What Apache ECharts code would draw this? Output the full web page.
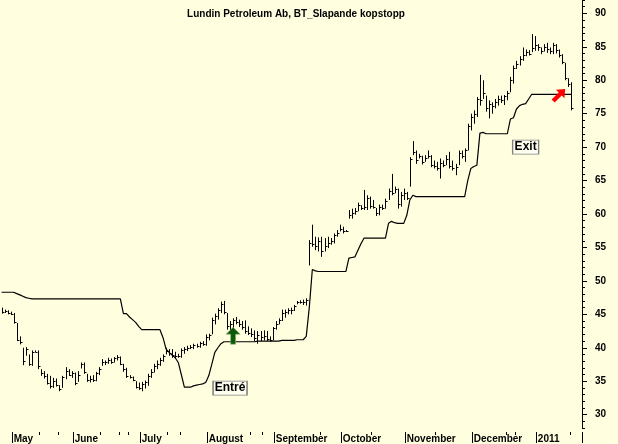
<!DOCTYPE html>
<html>
<head>
<meta charset="utf-8">
<script src="https://cdn.jsdelivr.net/npm/echarts@6/dist/echarts.min.js"></script>
<style>
  html, body { margin: 0; padding: 0; background: #ffffe0; }
  #main { width: 618px; height: 444px; }
</style>
</head>
<body>
<div id="main"></div>
<script>
// trading days, Apr 27 2010 - Jan 19 2011 (last 3 slots stay empty)
const holidays = ['2010-05-13', '2010-12-24', '2010-12-31', '2011-01-06'];
const monthNames = ['January', 'February', 'March', 'April', 'May', 'June', 'July',
    'August', 'September', 'October', 'November', 'December'];
const minorTickIdx = [13, 19, 33, 39, 42, 55, 59, 82, 86, 105, 122, 143, 166, 169, 187];

const highs = [
    46.0, 45.7, 45.6, 45.4, 45.2, 43.7, 41.7, 40.0, 40.1, 39.0,
    39.6, 39.6, 39.6, 36.8, 36.5, 36.1, 35.8, 35.5, 35.4, 34.4,
    35.8, 37.1, 36.8, 36.5, 36.3, 36.5, 37.8, 37.8, 36.1, 35.8,
    35.9, 36.4, 37.1, 38.3, 38.1, 38.5, 38.4, 38.6, 38.9, 38.7,
    37.6, 37.0, 35.9, 35.7, 35.0, 34.8, 34.9, 35.1, 36.1, 36.8,
    37.6, 38.1, 38.5, 39.0, 40.0, 39.8, 39.8, 39.4, 39.1, 39.9,
    40.1, 40.3, 40.4, 40.6, 40.6, 40.9, 41.0, 42.0, 42.1, 44.5,
    45.1, 45.9, 46.9, 47.0, 45.2, 44.0, 44.4, 44.6, 44.2, 44.0,
    44.1, 43.2, 42.9, 42.6, 42.5, 42.5, 42.6, 42.5, 41.7, 43.1,
    44.0, 44.4, 45.7, 45.7, 45.9, 46.0, 46.4, 47.0, 47.1, 47.2,
    47.4, 56.1, 58.4, 56.6, 56.5, 56.6, 56.4, 56.6, 56.4, 57.1,
    57.6, 58.4, 58.1, 57.6, 60.6, 60.8, 60.9, 61.7, 61.3, 63.6,
    62.8, 62.6, 62.1, 60.9, 61.4, 61.4, 62.3, 63.8, 66.0, 64.1,
    63.8, 63.3, 63.8, 63.3, 68.5, 70.9, 69.5, 69.0, 68.7, 68.8,
    69.5, 68.8, 68.0, 67.8, 68.3, 68.0, 68.8, 69.3, 68.0, 67.5,
    69.5, 69.5, 69.8, 73.5, 75.0, 75.5, 77.5, 80.8, 80.0, 77.7,
    77.0, 76.7, 77.2, 77.7, 77.7, 77.8, 78.4, 80.5, 82.2, 82.9,
    83.6, 84.9, 84.6, 84.5, 86.9, 86.6, 85.4, 84.9, 85.4, 85.6,
    84.9, 85.6, 85.4, 84.6, 83.9, 82.6, 80.3, 79.7
];
const lows = [
    45.1, 45.2, 45.0, 44.9, 43.6, 41.0, 40.5, 37.4, 38.8, 37.3,
    37.3, 39.3, 36.8, 35.8, 35.4, 34.5, 33.9, 34.0, 34.2, 33.5,
    34.0, 35.3, 35.8, 35.5, 34.4, 34.9, 36.9, 36.1, 34.9, 34.8,
    34.9, 35.0, 35.9, 37.3, 37.4, 37.6, 37.6, 37.8, 38.1, 37.4,
    36.4, 35.5, 35.4, 35.0, 33.9, 33.7, 33.5, 33.9, 34.3, 35.5,
    36.3, 36.8, 37.3, 37.9, 39.0, 38.8, 38.5, 38.4, 38.5, 38.5,
    39.1, 39.5, 39.8, 39.8, 40.0, 40.0, 40.3, 40.3, 41.1, 42.0,
    43.5, 44.2, 45.2, 45.0, 42.7, 42.5, 42.9, 43.5, 43.1, 42.7,
    42.1, 41.9, 41.6, 41.0, 40.6, 41.0, 41.1, 41.0, 40.9, 41.1,
    42.7, 43.5, 44.0, 44.5, 45.0, 45.0, 45.5, 46.5, 46.6, 46.4,
    46.3, 52.3, 55.1, 54.6, 54.4, 53.6, 54.4, 54.9, 55.4, 55.6,
    56.6, 57.4, 57.1, 57.3, 59.3, 59.3, 59.9, 60.4, 60.6, 60.6,
    60.6, 60.8, 60.8, 59.7, 59.8, 60.6, 60.8, 62.1, 62.8, 63.1,
    60.8, 61.1, 62.1, 62.1, 64.1, 68.8, 67.5, 68.3, 67.4, 67.8,
    68.3, 67.0, 66.8, 66.5, 65.3, 67.0, 67.3, 66.8, 66.5, 65.8,
    67.3, 68.3, 67.8, 69.5, 72.5, 73.5, 74.5, 76.2, 77.2, 75.3,
    74.3, 75.0, 75.8, 76.2, 76.6, 76.3, 77.0, 78.2, 79.5, 81.7,
    82.2, 82.9, 83.6, 83.7, 84.2, 84.4, 84.4, 83.9, 84.3, 84.1,
    83.9, 83.9, 84.0, 83.4, 82.4, 80.0, 79.0, 75.5
];
const closes = [
    45.4, 45.5, 45.2, 45.0, 43.8, 41.2, 40.8, 38.0, 39.8, 37.6,
    39.4, 39.4, 37.2, 36.2, 35.8, 34.8, 34.3, 35.0, 34.5, 33.9,
    35.6, 36.5, 36.0, 36.2, 34.8, 36.0, 37.6, 36.4, 35.2, 35.4,
    35.2, 36.2, 36.8, 37.8, 37.9, 38.2, 37.9, 38.4, 38.6, 37.6,
    36.8, 35.8, 35.6, 35.2, 34.2, 34.0, 34.6, 34.9, 35.8, 36.4,
    37.2, 37.5, 38.2, 38.8, 39.5, 39.2, 38.9, 38.7, 38.8, 39.6,
    39.8, 40.0, 40.1, 40.4, 40.2, 40.7, 40.6, 41.6, 41.9, 44.1,
    44.8, 45.6, 46.5, 45.4, 43.2, 43.6, 44.1, 43.8, 43.5, 43.1,
    42.5, 42.2, 42.1, 41.4, 41.9, 41.6, 41.8, 41.3, 41.2, 42.9,
    43.6, 44.1, 45.2, 45.4, 45.6, 45.6, 46.2, 46.8, 46.9, 46.9,
    47.2, 55.6, 55.5, 55.2, 55.9, 54.4, 55.2, 55.6, 55.9, 56.9,
    57.2, 57.7, 57.5, 57.4, 59.8, 60.2, 60.4, 61.3, 60.9, 61.0,
    62.4, 61.2, 61.0, 60.1, 61.1, 60.9, 62.0, 63.4, 63.2, 63.7,
    61.5, 62.8, 63.2, 62.4, 68.2, 69.2, 68.1, 68.6, 67.8, 68.4,
    68.7, 67.4, 67.2, 66.9, 67.6, 67.4, 68.2, 67.2, 66.9, 67.1,
    69.1, 68.6, 69.5, 73.2, 74.5, 75.0, 77.2, 77.0, 78.1, 75.8,
    76.5, 76.2, 76.8, 77.2, 77.1, 77.6, 78.1, 80.0, 81.9, 82.4,
    83.2, 83.8, 84.2, 84.0, 84.8, 85.2, 84.9, 84.4, 85.0, 84.6,
    84.4, 85.2, 84.5, 83.8, 82.8, 80.4, 79.4, 75.8
];
// trailing buy stop
const stopLine = [
    48.3, 48.3, 48.3, 48.3, 48.3, 48.1, 47.9, 47.7, 47.5, 47.4,
    47.3, 47.3, 47.3, 47.3, 47.3, 47.3, 47.3, 47.3, 47.3, 47.3,
    47.3, 47.3, 47.3, 47.3, 47.3, 47.3, 47.3, 47.3, 47.3, 47.3,
    47.3, 47.3, 47.3, 47.3, 47.3, 47.3, 47.3, 47.3, 47.3, 47.3,
    45.1, 45.1, 44.6, 44.2, 43.8, 43.2, 42.7, 42.7, 42.7, 42.7,
    42.7, 42.7, 42.7, 41.5, 39.8, 39.3, 38.9, 38.5, 37.8, 36.0,
    34.1, 34.1, 34.1, 34.3, 34.4, 34.5, 34.6, 34.8, 35.8, 37.5,
    39.3, 40.0, 40.6, 40.9, 40.9, 40.9, 40.9, 40.9, 40.9, 40.9,
    40.9, 40.9, 40.9, 40.9, 41.0, 41.0, 41.0, 41.0, 41.0, 41.0,
    41.0, 41.0, 41.1, 41.1, 41.1, 41.1, 41.1, 41.2, 41.2, 41.2,
    41.7, 46.0, 51.7, 51.5, 51.4, 51.4, 51.4, 51.4, 51.4, 51.4,
    51.4, 51.4, 51.4, 51.4, 53.4, 53.5, 53.6, 54.6, 55.6, 56.4,
    56.4, 56.4, 56.4, 56.4, 56.4, 56.4, 56.4, 58.6, 58.9, 58.7,
    58.6, 58.6, 58.6, 59.8, 62.1, 62.8, 62.6, 62.6, 62.6, 62.6,
    62.6, 62.6, 62.6, 62.6, 62.6, 62.6, 62.6, 62.6, 62.6, 62.6,
    62.6, 62.6, 62.6, 65.0, 66.8, 67.1, 67.3, 72.1, 72.2, 72.0,
    72.0, 72.0, 72.0, 72.0, 72.0, 72.0, 72.0, 74.2, 74.4, 75.7,
    76.2, 76.4, 76.5, 77.2, 77.9, 77.9, 77.9, 77.9, 77.9, 77.9,
    77.9, 77.9, 77.9, 77.9, 77.9, 77.9, 77.9, 77.9
];
const yMajor = [30, 35, 40, 45, 50, 55, 60, 65, 70, 75, 80, 85, 90];

// build the trading day list
const dates = [];
let d = new Date(Date.UTC(2010, 3, 27));
const end = Date.UTC(2011, 0, 24);
while (d.getTime() <= end) {
    const iso = d.toISOString().slice(0, 10);
    const wd = d.getUTCDay();
    if (wd > 0 && wd < 6 && holidays.indexOf(iso) < 0) dates.push(iso);
    d = new Date(d.getTime() + 86400000);
}
const monthStart = {};
for (let i = 1; i < dates.length; i++) {
    if (dates[i].slice(5, 7) !== dates[i - 1].slice(5, 7)) monthStart[i] = true;
}
function monthLabel(v) {
    const m = parseInt(v.slice(5, 7), 10) - 1;
    return m === 0 ? v.slice(0, 4) : monthNames[m];
}

const ohlc = highs.map(function (h, i) { return [i, h, lows[i], closes[i]]; });

function renderBar(params, api) {
    const i = api.value(0);
    const top = api.coord([i, api.value(1)]);
    const bot = api.coord([i, api.value(2)]);
    const cl = api.coord([i, api.value(3)]);
    const x = Math.round(top[0]) + 0.5;
    return {
        type: 'group',
        children: [
            { type: 'line', shape: { x1: x, y1: top[1], x2: x, y2: bot[1] },
              style: { stroke: '#000', lineWidth: 1 } },
            { type: 'line', shape: { x1: x, y1: Math.round(cl[1]) + 0.5, x2: x + 2, y2: Math.round(cl[1]) + 0.5 },
              style: { stroke: '#000', lineWidth: 1 } }
        ]
    };
}

const font = 'Liberation Sans, Arial, sans-serif';
const arrowPath = 'path://M7,0 L14,7 L9.5,7 L9.5,17 L4.5,17 L4.5,7 L0,7 Z';

const chart = echarts.init(document.getElementById('main'));
chart.setOption({
    backgroundColor: '#ffffe0',
    animation: false,
    title: {
        text: 'Lundin Petroleum Ab, BT_Slapande kopstopp',
        left: 291, top: 4, textAlign: 'center',
        textStyle: { fontSize: 10, fontWeight: 'bold', color: '#000', fontFamily: font }
    },
    grid: { left: 0, right: 36, top: 0, bottom: 14 },
    xAxis: [{
        type: 'category', data: dates, position: 'bottom', offset: 4,
        axisLine: { show: false },
        axisTick: { show: true, length: 3, lineStyle: { color: '#000' },
            interval: function (i) { return minorTickIdx.indexOf(i) >= 0; } },
        axisLabel: { show: false }
    }, {
        type: 'category', data: dates, position: 'bottom', offset: 4,
        axisLine: { show: false },
        axisTick: { show: true, length: 11, lineStyle: { color: '#000' },
            interval: function (i) { return !!monthStart[i]; } },
        axisLabel: {
            show: true, interval: function (i) { return !!monthStart[i]; },
            formatter: monthLabel, align: 'left', margin: 2,
            fontSize: 10, fontWeight: 'bold', color: '#000', fontFamily: font
        }
    }],
    yAxis: [{
        type: 'value', position: 'right', min: 28, max: 92, interval: 1,
        axisLine: { show: true, lineStyle: { color: '#000' } },
        axisTick: { show: true, length: 3, lineStyle: { color: '#000' } },
        axisLabel: { show: false },
        splitLine: { show: false }
    }, {
        type: 'value', position: 'right', min: 28, max: 92,
        axisLine: { show: false },
        axisTick: { show: true, length: 5, customValues: yMajor, lineStyle: { color: '#000' } },
        axisLabel: { show: true, customValues: yMajor, margin: 13,
            fontSize: 10, fontWeight: 'bold', color: '#000', fontFamily: font },
        splitLine: { show: false }
    }],
    series: [{
        type: 'custom',
        renderItem: renderBar,
        data: ohlc,
        encode: { x: 0, y: [1, 2] },
        silent: true
    }, {
        type: 'line',
        data: stopLine,
        symbol: 'none',
        lineStyle: { color: '#000', width: 1.2 },
        silent: true,
        markPoint: {
            silent: true,
            label: { show: false },
            data: [
                { coord: [76, 41.8], symbol: arrowPath, symbolSize: [14, 17],
                  itemStyle: { color: '#0a5a0a', borderColor: '#8fb86f', borderWidth: 0.6 } },
                { coord: [183, 77.8], symbol: arrowPath, symbolSize: [12, 17], symbolRotate: -45,
                  itemStyle: { color: '#ff0000' } },
                { coord: [75, 33.97], symbol: 'rect', symbolSize: [34, 14],
                  itemStyle: { color: '#fffff0', borderColor: '#808080', borderWidth: 1 },
                  label: { show: true, position: 'inside', formatter: 'Entré', color: '#000',
                      fontSize: 12, fontWeight: 'bold', fontFamily: font } },
                { coord: [172, 70.0], symbol: 'rect', symbolSize: [26, 14],
                  itemStyle: { color: '#fffff0', borderColor: '#808080', borderWidth: 1 },
                  label: { show: true, position: 'inside', formatter: 'Exit', color: '#000',
                      fontSize: 12, fontWeight: 'bold', fontFamily: font } }
            ]
        }
    }]
});
</script>
</body>
</html>
